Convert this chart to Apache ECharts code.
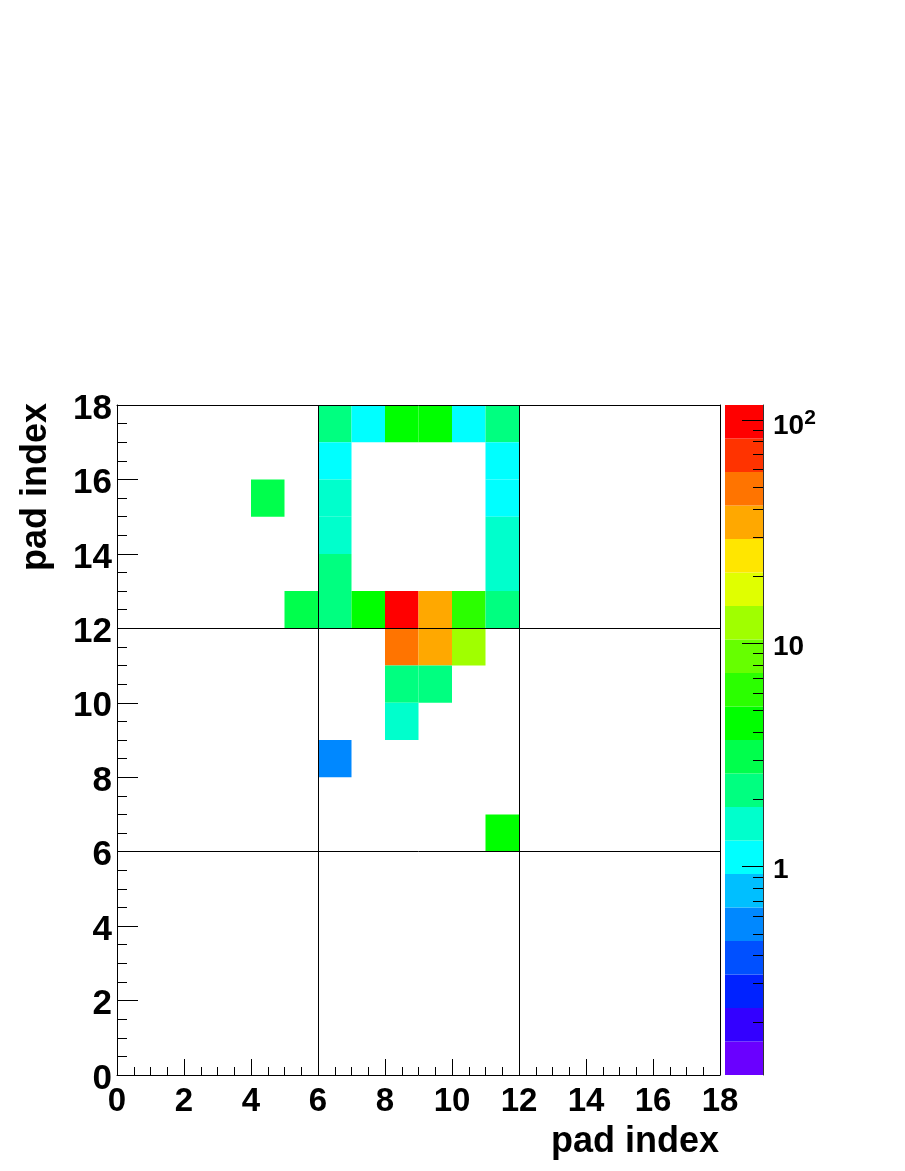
<!DOCTYPE html>
<html><head><meta charset="utf-8">
<script src="https://cdn.jsdelivr.net/npm/echarts@6/dist/echarts.min.js"></script>
<style>html,body{margin:0;padding:0;background:#fff}#c{width:905px;height:1171px}</style>
</head><body><div id="c"></div>
<script>
// ---- data (x bin low edge, y bin low edge, content) ----
const cellX = [6, 7, 8, 9, 10, 11,  6, 11,  4, 6, 11,  6, 11,  6, 11,  5, 6, 7, 8, 9, 10, 11,  8, 9, 10,  8, 9,  8,  6,  11];
const cellY = [17,17,17,17,17, 17, 16, 16, 15,15, 15, 14, 14, 13, 13, 12,12,12,12,12, 12, 12, 11,11, 11, 10,10,  9,  8,   6];
const cellZ = [2.2,1.1,4.4,4.3,1.1,2.2, 1.05,1.15, 3.1,1.6,1.1, 1.5,1.6, 2.3,1.55, 3.0,2.2,4.5,100,35,6.2,2.1, 48,33,12, 2.3,2.2, 1.6, 0.55, 4.4];
const xRange = [0, 18];
const yRange = [0, 18];
const dividers = [6, 12];
const zMin = 0.1167, zMax = 116.7;
const zMajor = [1, 10, 100];
const zMinor = [0.2,0.3,0.4,0.5,0.6,0.7,0.8,0.9, 2,3,4,5,6,7,8,9, 20,30,40,50,60,70,80,90];
const palette = ['#6a00ff','#3300ff','#0022ff','#0050ff','#0088ff','#00bfff','#00ffff','#00ffcc','#00ff80','#00ff4c',
                 '#00ff00','#2bff00','#66ff00','#a0ff00','#e0ff00','#ffe600','#ffa800','#ff7400','#ff3300','#ff0000'];
const xTitle = 'pad index';
const yTitle = 'pad index';

// ---- build ----
const FONT = '"Liberation Sans", Arial, Helvetica, sans-serif';
const lmin = Math.log10(zMin), lmax = Math.log10(zMax), nb = palette.length, dl = (lmax - lmin) / nb;
function colorOf(v) {
  let k = Math.floor((Math.log10(v) - lmin) / dl);
  k = Math.max(0, Math.min(nb - 1, k));
  return palette[k];
}
const cells = cellX.map((x, i) => [x, cellY[i], cellZ[i]]);
const bands = palette.map((c, k) => [lmin + k * dl, lmin + (k + 1) * dl, k]);

const chart = echarts.init(document.getElementById('c'), null, {renderer: 'canvas'});
const blackLine = {show: true, onZero: false, lineStyle: {color: '#000', width: 1}};
const option = {
  animation: false,
  backgroundColor: '#fff',
  grid: [
    {left: 117, top: 405, width: 603, height: 670},
    {left: 725, top: 405, width: 38, height: 670}
  ],
  xAxis: [
    {gridIndex: 0, type: 'value', min: xRange[0], max: xRange[1], interval: 2, z: 10,
     axisLine: blackLine,
     axisTick: {inside: true, length: 16, lineStyle: {color: '#000', width: 1}},
     minorTick: {show: true, splitNumber: 4, length: 8, lineStyle: {color: '#000', width: 1}},
     splitLine: {show: false},
     axisLabel: {color: '#000', fontFamily: FONT, fontWeight: 'bold', fontSize: 33, margin: 10}},
    {gridIndex: 0, type: 'value', position: 'top', min: xRange[0], max: xRange[1], z: 10,
     axisLine: blackLine, axisTick: {show: false}, axisLabel: {show: false}, splitLine: {show: false}},
    {gridIndex: 1, type: 'value', min: 0, max: 1, show: false}
  ],
  yAxis: [
    {gridIndex: 0, type: 'value', min: yRange[0], max: yRange[1], interval: 2, z: 10,
     axisLine: blackLine,
     axisTick: {inside: true, length: 21, lineStyle: {color: '#000', width: 1}},
     minorTick: {show: true, splitNumber: 4, length: 10, lineStyle: {color: '#000', width: 1}},
     splitLine: {show: false},
     axisLabel: {margin: 5, formatter: v => '{a|' + v + '}',
       rich: {a: {color: '#000', fontFamily: FONT, fontWeight: 'bold', fontSize: 35, lineHeight: 35, padding: [8, 0, 0, 0]}}}},
    {gridIndex: 0, type: 'value', position: 'right', min: yRange[0], max: yRange[1], z: 10,
     axisLine: blackLine, axisTick: {show: false}, axisLabel: {show: false}, splitLine: {show: false}},
    {gridIndex: 1, type: 'value', position: 'right', min: lmin, max: lmax, z: 10,
     axisLine: {show: true, onZero: false, lineStyle: {color: '#333', width: 1}},
     axisTick: {show: true, inside: true, length: 21, customValues: zMajor.map(Math.log10), lineStyle: {color: '#000', width: 1}},
     splitLine: {show: false},
     axisLabel: {show: true, margin: 10, customValues: zMajor.map(Math.log10),
       formatter: v => { const n = Math.round(Math.pow(10, v)); return n === 100 ? '{b2|10}{s|2}' : '{b|' + n + '}'; },
       rich: {
         b: {fontFamily: FONT, fontWeight: 'bold', fontSize: 28, lineHeight: 28, color: '#000', padding: [8, 0, 0, 0]},
         b2: {fontFamily: FONT, fontWeight: 'bold', fontSize: 28, lineHeight: 28, color: '#000', padding: [12, 0, 0, 0]},
         s: {fontFamily: FONT, fontWeight: 'bold', fontSize: 21, lineHeight: 21, color: '#000', verticalAlign: 'top', padding: [2, 0, 0, 0]}
       }}},
    {gridIndex: 1, type: 'value', position: 'right', min: lmin, max: lmax, z: 10,
     axisLine: {show: false, onZero: false},
     axisTick: {show: true, inside: true, length: 10, customValues: zMinor.map(Math.log10), lineStyle: {color: '#000', width: 1}},
     axisLabel: {show: false}, splitLine: {show: false}}
  ],
  series: [
    {type: 'custom', xAxisIndex: 0, yAxisIndex: 0, data: cells, silent: true,
     renderItem: (params, api) => {
       const a = api.coord([api.value(0), api.value(1)]);
       const b = api.coord([api.value(0) + 1, api.value(1) + 1]);
       return {type: 'rect', shape: {x: a[0], y: b[1], width: b[0] - a[0], height: a[1] - b[1]},
               style: {fill: colorOf(api.value(2))}};
     },
     markLine: {silent: true, symbol: ['none', 'none'], label: {show: false}, animation: false,
       lineStyle: {color: '#000', width: 1, type: 'solid'},
       data: dividers.map(v => ({xAxis: v})).concat(dividers.map(v => ({yAxis: v})))}
    },
    {type: 'custom', xAxisIndex: 2, yAxisIndex: 2, data: bands, silent: true,
     renderItem: (params, api) => {
       const a = api.coord([0, api.value(0)]);
       const b = api.coord([1, api.value(1)]);
       return {type: 'rect', shape: {x: a[0], y: b[1], width: b[0] - a[0], height: a[1] - b[1]},
               style: {fill: palette[api.value(2)]}};
     }}
  ],
  graphic: [
    {type: 'text', right: 905 - 719, top: 1124,
     style: {text: xTitle, font: 'bold 36px ' + FONT, fill: '#000'}},
    {type: 'text', x: 36, y: 403, rotation: Math.PI / 2,
     style: {text: yTitle, font: 'bold 36px ' + FONT, fill: '#000', align: 'right', verticalAlign: 'middle'}}
  ]
};
chart.setOption(option);
</script>
</body></html>
